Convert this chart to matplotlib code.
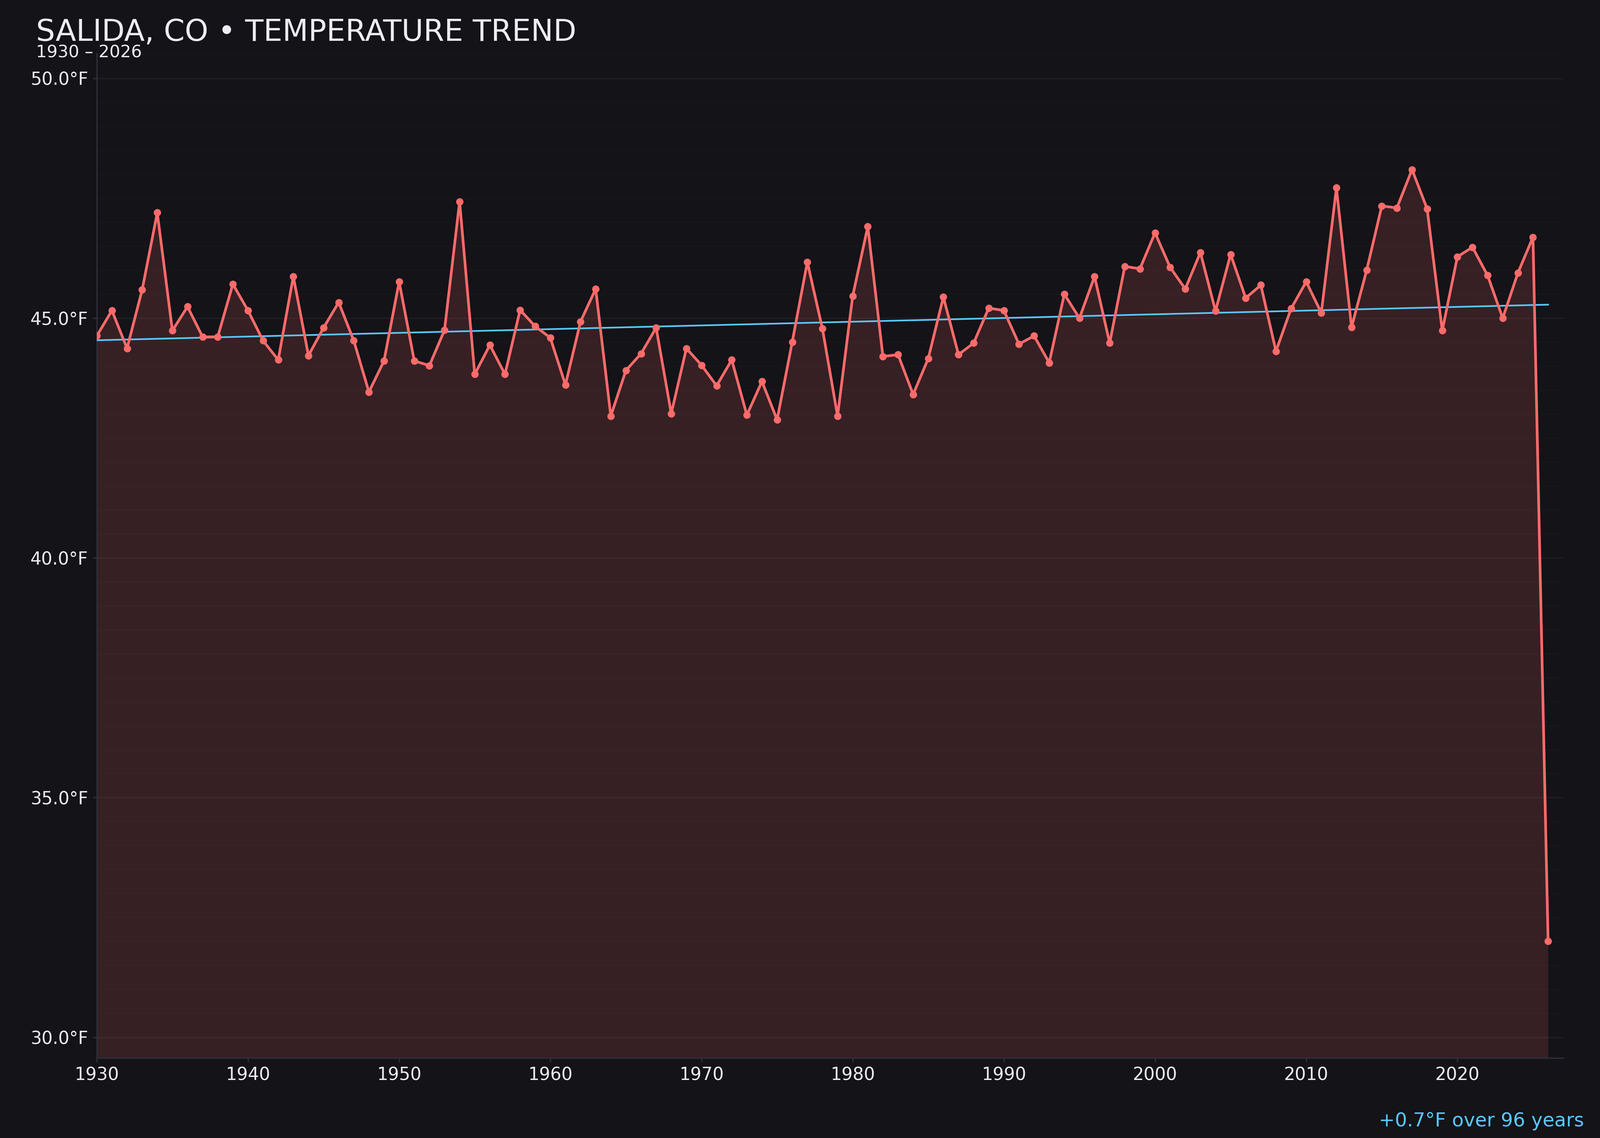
import numpy as np
import matplotlib
matplotlib.use('Agg')
import matplotlib.pyplot as plt
from matplotlib.ticker import MultipleLocator, FuncFormatter

# annual mean temperature, Salida CO
years = list(range(1930, 2027))
temps = [
    44.63, 45.16, 44.37, 45.59, 47.20, 44.74, 45.24, 44.61, 44.61, 45.71,  # 1930s
    45.16, 44.53, 44.13, 45.87, 44.22, 44.80, 45.33, 44.53, 43.46, 44.11,  # 1940s
    45.76, 44.11, 44.01, 44.75, 47.43, 43.83, 44.44, 43.83, 45.17, 44.83,  # 1950s
    44.59, 43.61, 44.93, 45.61, 42.96, 43.91, 44.26, 44.80, 43.01, 44.37,  # 1960s
    44.02, 43.59, 44.13, 42.98, 43.68, 42.88, 44.50, 46.17, 44.78, 42.96,  # 1970s
    45.46, 46.91, 44.20, 44.24, 43.41, 44.16, 45.44, 44.24, 44.48, 45.21,  # 1980s
    45.16, 44.46, 44.63, 44.07, 45.50, 45.00, 45.87, 44.48, 46.08, 46.03,  # 1990s
    46.78, 46.06, 45.61, 46.37, 45.15, 46.33, 45.42, 45.69, 44.31, 45.20,  # 2000s
    45.76, 45.11, 47.72, 44.81, 46.00, 47.34, 47.30, 48.10, 47.28, 44.74,  # 2010s
    46.28, 46.48, 45.89, 45.00, 45.94, 46.69, 32.01,                       # 2020s
]

title = 'SALIDA, CO \u2022 TEMPERATURE TREND'
subtitle = f'{years[0]} \u2013 {years[-1]}'

BG = '#131318'
RED = '#ff6b6b'
BLUE = '#5ac8fa'
TXT = '#ececf2'

x = np.array(years)
y = np.array(temps)
slope, icpt = np.polyfit(x, y, 1)
trend = slope * x + icpt
change = trend[-1] - trend[0]

fig = plt.figure(figsize=(4000 / 300, 2844 / 300), dpi=300, facecolor=BG)
ax = fig.add_axes([0.0605, 0.0703, 0.9165, 0.8827], facecolor=BG)

ymin, ymax = 29.57, 50.52
ax.fill_between(x, y, ymin, color=RED, alpha=0.15, lw=0, zorder=2)
ax.plot(x, y, color=RED, lw=1.6, marker='o', ms=3.4, zorder=4)
ax.plot(x, trend, color=BLUE, lw=1.0, zorder=3)

ax.set_xlim(1930, 2027)
ax.set_ylim(ymin, ymax)
ax.xaxis.set_major_locator(MultipleLocator(10))
ax.yaxis.set_major_locator(MultipleLocator(5))
ax.yaxis.set_minor_locator(MultipleLocator(0.5))
ax.yaxis.set_major_formatter(FuncFormatter(lambda v, p: f'{v:.1f}\u00b0F'))

ax.grid(True, axis='y', which='major', color='white', lw=0.8, alpha=0.05, zorder=1)
ax.grid(True, axis='y', which='minor', color='white', lw=0.6, alpha=0.02, zorder=1)
ax.tick_params(axis='both', which='major', colors='#2e2e38', labelcolor=TXT,
               labelsize=10.5, length=2.5, width=0.8, pad=2.6)
ax.tick_params(axis='y', which='minor', length=0)

for s in ['top', 'right']:
    ax.spines[s].set_visible(False)
for s in ['left', 'bottom']:
    ax.spines[s].set_color('#2e2e38')
    ax.spines[s].set_linewidth(0.8)

fig.text(0.0225, 0.964, title, color=TXT, fontsize=18, ha='left', va='baseline')
fig.text(0.0225, 0.9497, subtitle, color=TXT, fontsize=10.2, ha='left', va='baseline')
fig.text(0.990, 0.0102, f'{change:+.1f}\u00b0F over {years[-1] - years[0]} years',
         color=BLUE, fontsize=11.5, ha='right', va='baseline')

fig.savefig('out.png', dpi=300, facecolor=BG)
